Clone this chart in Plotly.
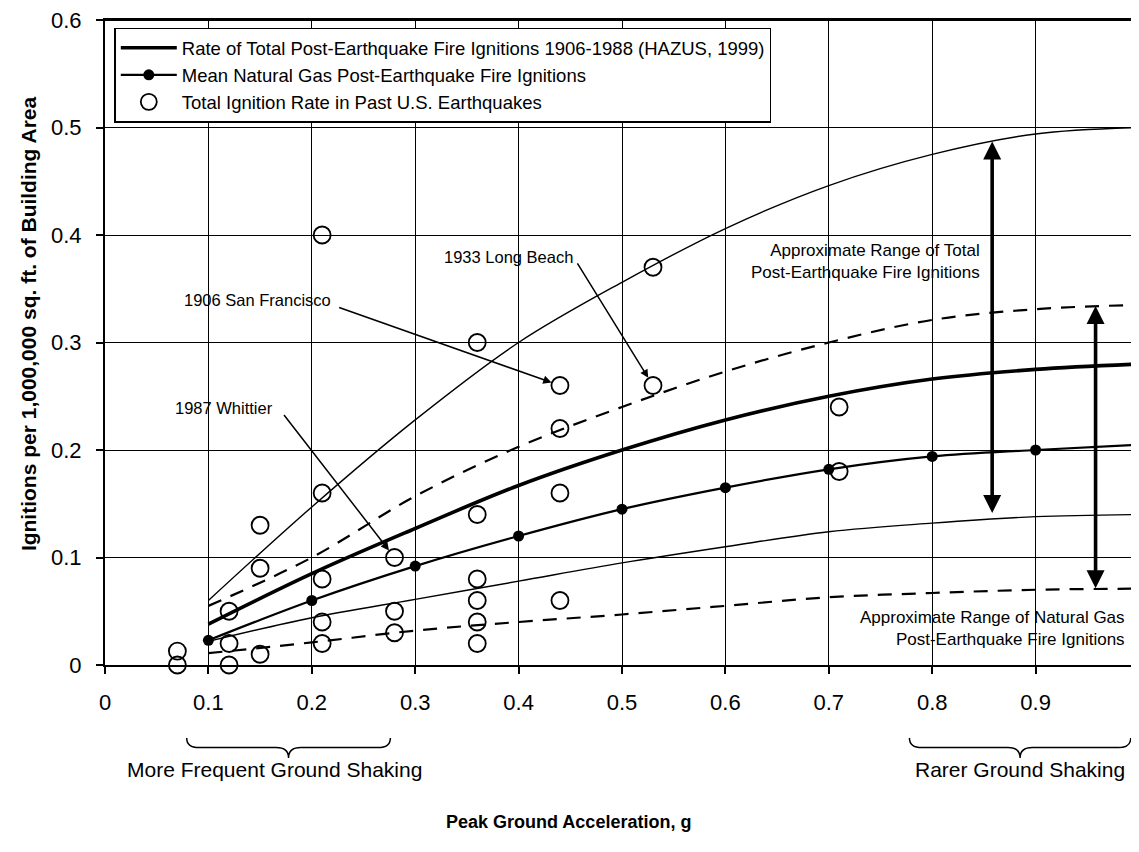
import plotly.graph_objects as go

# ---------------- data ----------------
pga = [0.1, 0.2, 0.3, 0.4, 0.5, 0.6, 0.7, 0.8, 0.9, 1.0]
total_rate = [0.038, 0.085, 0.127, 0.167, 0.200, 0.228, 0.250, 0.266, 0.275, 0.280]
gas_mean = [0.023, 0.060, 0.092, 0.120, 0.145, 0.165, 0.182, 0.194, 0.200, 0.205]
total_upper = [0.060, 0.147, 0.228, 0.300, 0.356, 0.406, 0.446, 0.475, 0.494, 0.500]
total_lower = [0.022, 0.044, 0.061, 0.078, 0.095, 0.110, 0.124, 0.132, 0.138, 0.140]
gas_upper = [0.055, 0.100, 0.157, 0.203, 0.240, 0.273, 0.300, 0.321, 0.331, 0.335]
gas_lower = [0.011, 0.021, 0.032, 0.040, 0.047, 0.055, 0.063, 0.067, 0.070, 0.071]

obs_x = [0.07, 0.07, 0.12, 0.12, 0.12, 0.15, 0.15, 0.15,
         0.21, 0.21, 0.21, 0.21, 0.21, 0.28, 0.28, 0.28,
         0.36, 0.36, 0.36, 0.36, 0.36, 0.36,
         0.44, 0.44, 0.44, 0.44, 0.53, 0.53, 0.71, 0.71]
obs_y = [0.013, 0.0, 0.05, 0.02, 0.0, 0.13, 0.09, 0.01,
         0.40, 0.16, 0.08, 0.04, 0.02, 0.10, 0.05, 0.03,
         0.30, 0.14, 0.08, 0.06, 0.04, 0.02,
         0.26, 0.22, 0.16, 0.06, 0.37, 0.26, 0.24, 0.18]

x_ticks = [0, 0.1, 0.2, 0.3, 0.4, 0.5, 0.6, 0.7, 0.8, 0.9, 1.0]
x_tick_labels = ["0", "0.1", "0.2", "0.3", "0.4", "0.5", "0.6", "0.7", "0.8", "0.9", "1"]
y_ticks = [0, 0.1, 0.2, 0.3, 0.4, 0.5, 0.6]
y_tick_labels = ["0", "0.1", "0.2", "0.3", "0.4", "0.5", "0.6"]

# labelled earthquakes: (label, x, y) of the observed point they refer to
events = [("1933 Long Beach", 0.53, 0.26),
          ("1906 San Francisco", 0.44, 0.26),
          ("1987 Whittier", 0.28, 0.10)]

FONT = "Liberation Sans, Arial, sans-serif"

fig = go.Figure()

# thin / dashed range lines (not in legend)
fig.add_trace(go.Scatter(x=pga, y=total_upper, mode="lines", line=dict(color="black", width=1.4, shape="spline"),
                         showlegend=False, hoverinfo="skip"))
fig.add_trace(go.Scatter(x=pga, y=total_lower, mode="lines", line=dict(color="black", width=1.4, shape="spline"),
                         showlegend=False, hoverinfo="skip"))
fig.add_trace(go.Scatter(x=pga, y=gas_upper, mode="lines",
                         line=dict(color="black", width=2.2, dash="14px,10px", shape="spline"),
                         showlegend=False, hoverinfo="skip"))
fig.add_trace(go.Scatter(x=pga, y=gas_lower, mode="lines",
                         line=dict(color="black", width=2.2, dash="14px,10px", shape="spline"),
                         showlegend=False, hoverinfo="skip"))

# legend traces
fig.add_trace(go.Scatter(x=pga, y=total_rate, mode="lines",
                         line=dict(color="black", width=3.6, shape="spline"),
                         name="Rate of Total Post-Earthquake Fire Ignitions 1906-1988 (HAZUS, 1999)"))
fig.add_trace(go.Scatter(x=pga, y=gas_mean, mode="lines+markers",
                         line=dict(color="black", width=2.2, shape="spline"),
                         marker=dict(color="black", size=11, symbol="circle"),
                         name="Mean Natural Gas Post-Earthquake Fire Ignitions"))
fig.add_trace(go.Scatter(x=obs_x, y=obs_y, mode="markers",
                         marker=dict(symbol="circle-open", size=17, color="black", line=dict(width=1.8, color="black")),
                         name="Total Ignition Rate in Past U.S. Earthquakes", cliponaxis=False))

annotations = []
# event labels and arrows
label_pos = [(0.39, 0.38), (0.147, 0.34), (0.115, 0.239)]
arrow_start = [(0.456, 0.375), (0.225, 0.333), (0.172, 0.234)]
for (name, ex, ey), (lx, ly), (sx, sy) in zip(events, label_pos, arrow_start):
    annotations.append(dict(x=lx, y=ly, xref="x", yref="y", text=name, showarrow=False,
                            xanchor="center", font=dict(family=FONT, size=16.5, color="black")))
    annotations.append(dict(x=ex, y=ey, xref="x", yref="y", ax=sx, ay=sy, axref="x", ayref="y",
                            text="", showarrow=True, arrowhead=2, arrowsize=1.1, arrowwidth=1.5,
                            arrowcolor="black", standoff=9))

# range double arrows
annotations.append(dict(x=0.858, y=0.487, ax=0.858, ay=0.14, xref="x", yref="y", axref="x", ayref="y",
                        text="", showarrow=True, arrowhead=2, arrowside="end+start", arrowsize=1.0,
                        arrowwidth=3.6, arrowcolor="black"))
annotations.append(dict(x=0.958, y=0.334, ax=0.958, ay=0.07, xref="x", yref="y", axref="x", ayref="y",
                        text="", showarrow=True, arrowhead=2, arrowside="end+start", arrowsize=1.0,
                        arrowwidth=3.6, arrowcolor="black"))

annotations.append(dict(x=0.848, y=0.375, xref="x", yref="y", xanchor="right", align="right", showarrow=False,
                        text="Approximate Range of Total<br>Post-Earthquake Fire Ignitions",
                        font=dict(family=FONT, size=17, color="black")))
annotations.append(dict(x=0.988, y=0.034, xref="x", yref="y", xanchor="right", align="right", showarrow=False,
                        text="Approximate Range of Natural Gas<br>Post-Earthquake Fire Ignitions",
                        font=dict(family=FONT, size=17, color="black")))

# bottom texts
annotations.append(dict(x=0.164, y=-0.183, xref="paper", yref="paper", showarrow=False, xanchor="center",
                        text="More Frequent Ground Shaking", font=dict(family=FONT, size=21, color="black")))
annotations.append(dict(x=0.885, y=-0.183, xref="paper", yref="paper", showarrow=False, xanchor="center",
                        text="Rarer Ground Shaking", font=dict(family=FONT, size=21, color="black")))
annotations.append(dict(x=0.448, y=-0.262, xref="paper", yref="paper", showarrow=False, xanchor="center",
                        text="<b>Peak Ground Acceleration, g</b>", font=dict(family=FONT, size=18, color="black")))
annotations.append(dict(x=-0.0745, y=0.53, xref="paper", yref="paper", showarrow=False, textangle=-90,
                        xanchor="center", yanchor="middle",
                        text="<b>Ignitions per 1,000,000 sq. ft. of Building Area</b>",
                        font=dict(family=FONT, size=21, color="black")))


def brace(x0, x1, ytop, ymid, ybot):
    xc = (x0 + x1) / 2
    d = 0.012
    return (f"M {x0},{ytop} Q {x0},{ymid} {x0 + d},{ymid} L {xc - d},{ymid} "
            f"Q {xc},{ymid} {xc},{ybot} Q {xc},{ymid} {xc + d},{ymid} "
            f"L {x1 - d},{ymid} Q {x1},{ymid} {x1},{ytop}")


shapes = [
    dict(type="path", xref="paper", yref="paper", path=brace(0.079, 0.276, -0.113, -0.128, -0.144),
         line=dict(color="black", width=1.5)),
    dict(type="path", xref="paper", yref="paper", path=brace(0.778, 0.992, -0.113, -0.128, -0.144),
         line=dict(color="black", width=1.5)),
    # top frame line of the plot area
    dict(type="line", xref="paper", yref="paper", x0=0, x1=1, y0=1, y1=1,
         line=dict(color="black", width=2)),
]

# the page places the figure 8px from the top-left corner of the window
fig.update_layout(
    width=1131, height=844,
    margin=dict(l=97, r=0, t=12, b=187, autoexpand=False),
    paper_bgcolor="white", plot_bgcolor="white",
    font=dict(family=FONT, color="black"),
    showlegend=True,
    legend=dict(x=0.009, y=0.988, xanchor="left", yanchor="top", bgcolor="white",
                bordercolor="black", borderwidth=1.5, font=dict(family=FONT, size=18.5, color="black"),
                tracegroupgap=0, itemwidth=56),
    annotations=annotations,
    shapes=shapes,
)

fig.update_xaxes(range=[0, 1.0], tickmode="array", tickvals=x_ticks, ticktext=x_tick_labels,
                 automargin=False, ticklabeloverflow="allow",
                 showgrid=True, gridcolor="black", gridwidth=1,
                 showline=True, linecolor="black", linewidth=2, mirror=True,
                 ticks="outside", ticklen=7, tickcolor="black", tickwidth=1.5,
                 tickfont=dict(family=FONT, size=22, color="black"), ticklabelstandoff=10,
                 zeroline=False)
fig.update_yaxes(range=[0, 0.6], tickmode="array", tickvals=y_ticks, ticktext=y_tick_labels,
                 automargin=False, ticklabeloverflow="allow",
                 showgrid=True, gridcolor="black", gridwidth=1,
                 showline=True, linecolor="black", linewidth=2, mirror=True,
                 ticks="outside", ticklen=7, tickcolor="black", tickwidth=1.5,
                 tickfont=dict(family=FONT, size=22, color="black"), ticklabelstandoff=10,
                 zeroline=False)

fig.write_html("out.html")
